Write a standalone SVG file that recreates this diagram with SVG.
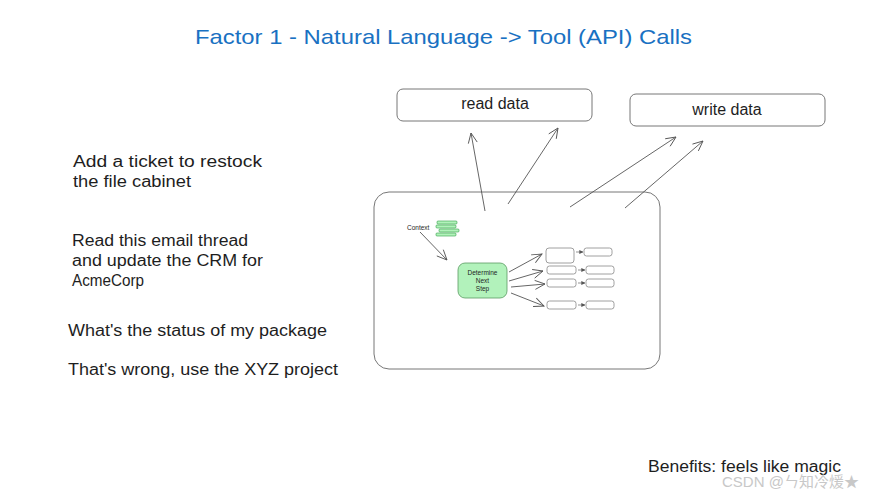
<svg xmlns="http://www.w3.org/2000/svg" width="873" height="498" viewBox="0 0 873 498">
<style>
.t{font-family:"Liberation Sans","Noto Sans",sans-serif;fill:#1e1e1e}
.box{fill:#fff;stroke:#777;stroke-width:1}
.sm{fill:#fff;stroke:#888;stroke-width:0.8}
.ln{fill:none;stroke:#555;stroke-width:0.9}
.ln2{fill:none;stroke:#666;stroke-width:0.7}
.bar{fill:#b2f2bb;stroke:#2f9e44;stroke-width:0.6}
</style>
<defs>
<marker id="ah" viewBox="0 0 12 12" refX="11" refY="6" markerWidth="12" markerHeight="12" markerUnits="userSpaceOnUse" orient="auto">
<path d="M1,1.5 L11,6 L1,10.5" fill="none" stroke="#555" stroke-width="0.9"/>
</marker>
<marker id="ahs" viewBox="0 0 6 6" refX="5.5" refY="3" markerWidth="4" markerHeight="4" markerUnits="userSpaceOnUse" orient="auto">
<path d="M0,0 L6,3 L0,6 Z" fill="#555"/>
</marker>
</defs>
<rect width="873" height="498" fill="#fff"/>
<text id="title" x="195" y="44" class="t" style="fill:#1971c2;font-size:21px" textLength="497" lengthAdjust="spacingAndGlyphs">Factor 1 - Natural Language -&gt; Tool (API) Calls</text>

<g id="read-data"><rect class="box" x="397" y="89" width="195" height="32" rx="6"/><text class="t" x="495" y="109" text-anchor="middle" style="font-size:16px">read data</text></g>
<g id="write-data"><rect class="box" x="630" y="94" width="195" height="32" rx="6"/><text class="t" x="727" y="115" text-anchor="middle" style="font-size:16px">write data</text></g>

<g id="prompts">
<text class="t" style="font-size:16px"><tspan x="73" y="167" textLength="189" lengthAdjust="spacingAndGlyphs">Add a ticket to restock</tspan><tspan x="73" y="187" textLength="118" lengthAdjust="spacingAndGlyphs">the file cabinet</tspan></text>
<text class="t" style="font-size:16px"><tspan x="72" y="246" textLength="176" lengthAdjust="spacingAndGlyphs">Read this email thread</tspan><tspan x="72" y="266" textLength="191" lengthAdjust="spacingAndGlyphs">and update the CRM for</tspan><tspan x="72" y="286" textLength="72" lengthAdjust="spacingAndGlyphs">AcmeCorp</tspan></text>
<text class="t" x="68" y="336" style="font-size:16px" textLength="259" lengthAdjust="spacingAndGlyphs">What's the status of my package</text>
<text class="t" x="68" y="375" style="font-size:16px" textLength="270" lengthAdjust="spacingAndGlyphs">That's wrong, use the XYZ project</text>
</g>

<g id="agent"><rect class="box" x="374" y="192" width="286" height="177" rx="15"/></g>

<g id="context">
<text class="t" x="407" y="230" style="font-size:6.5px">Context</text>
<rect class="bar" x="437" y="221" width="20" height="3" rx="1"/>
<rect class="bar" x="436" y="225" width="20" height="3" rx="1"/>
<rect class="bar" x="439" y="229" width="20" height="3" rx="1"/>
<rect class="bar" x="436" y="233" width="20" height="3" rx="1"/>
</g>

<g id="determine"><rect x="458" y="263" width="49" height="35" rx="7" fill="#b2f2bb" stroke="#5a9a62" stroke-width="0.8"/>
<text class="t" text-anchor="middle" style="font-size:6.5px"><tspan x="482.5" y="275">Determine</tspan><tspan x="482.5" y="283">Next</tspan><tspan x="482.5" y="291">Step</tspan></text></g>

<g id="steps">
<rect class="sm" x="546" y="248" width="28" height="15" rx="3"/>
<rect class="sm" x="547" y="266" width="29" height="8" rx="2.5"/>
<rect class="sm" x="547" y="279" width="29" height="8" rx="2.5"/>
<rect class="sm" x="547" y="301" width="29" height="8" rx="2.5"/>
<rect class="sm" x="584" y="248" width="28" height="8" rx="2.5"/>
<rect class="sm" x="586" y="266" width="28" height="8" rx="2.5"/>
<rect class="sm" x="586" y="279" width="28" height="8" rx="2.5"/>
<rect class="sm" x="586" y="301" width="28" height="8" rx="2.5"/>
</g>

<g id="connectors">
<line class="ln" x1="485" y1="211" x2="471" y2="133" marker-end="url(#ah)"/>
<line class="ln" x1="508" y1="204" x2="558" y2="128" marker-end="url(#ah)"/>
<line class="ln" x1="570" y1="207" x2="676" y2="137" marker-end="url(#ah)"/>
<line class="ln" x1="625" y1="208" x2="703" y2="141" marker-end="url(#ah)"/>
<line class="ln" x1="420" y1="232" x2="447" y2="260" marker-end="url(#ah)"/>
<line class="ln" x1="509" y1="272" x2="542" y2="254" marker-end="url(#ah)"/>
<line class="ln" x1="509" y1="281" x2="543" y2="271" marker-end="url(#ah)"/>
<line class="ln" x1="511" y1="287" x2="545" y2="284" marker-end="url(#ah)"/>
<line class="ln" x1="511" y1="293" x2="544" y2="306" marker-end="url(#ah)"/>
<line class="ln2" x1="576" y1="252" x2="583" y2="252" marker-end="url(#ahs)"/>
<line class="ln2" x1="578" y1="270" x2="585" y2="270" marker-end="url(#ahs)"/>
<line class="ln2" x1="578" y1="283" x2="585" y2="283" marker-end="url(#ahs)"/>
<line class="ln2" x1="578" y1="305" x2="585" y2="305" marker-end="url(#ahs)"/>
</g>

<text class="t" x="648" y="472" style="font-size:16px" textLength="193" lengthAdjust="spacingAndGlyphs">Benefits: feels like magic</text>
<text x="722" y="487" style="font-family:'Liberation Sans','Noto Sans CJK SC',sans-serif;font-size:15px;fill:#c8c8c8">CSDN @ㄣ知冷煖★</text>
</svg>
